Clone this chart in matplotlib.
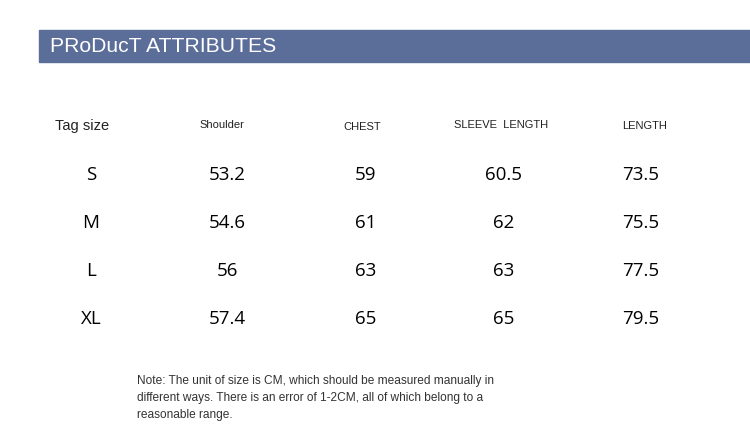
import matplotlib
matplotlib.use("Agg")
import matplotlib.pyplot as plt
from matplotlib.patches import Rectangle

# data
sizes = ["S", "M", "L", "XL"]
shoulder = ["53.2", "54.6", "56", "57.4"]
chest = ["59", "61", "63", "65"]
sleeve = ["60.5", "62", "63", "65"]
length = ["73.5", "75.5", "77.5", "79.5"]
headers = ["Tag size", "Shoulder", "CHEST", "SLEEVE  LENGTH", "LENGTH"]
title = "PRoDucT ATTRIBUTES"
note = ("Note: The unit of size is CM, which should be measured manually in\n"
        "different ways. There is an error of 1-2CM, all of which belong to a\n"
        "reasonable range.")

W, H = 750, 439
fig = plt.figure(figsize=(W / 100, H / 100), dpi=100)
ax = fig.add_axes([0, 0, 1, 1])
ax.set_xlim(0, W)
ax.set_ylim(H, 0)
ax.axis("off")

# header bar
ax.add_patch(Rectangle((39, 31), W - 39, 32, color="#5b6d99", zorder=1))
ax.text(50, 47, title, color="white", fontsize=15.2, family="Liberation Sans",
        va="center", ha="left", zorder=2)

# column headers
ax.text(55, 126, headers[0], fontsize=10.5, family="Liberation Sans",
        color="#222222", ha="left", va="center")
head_x = [222, 362, 501, 645]
head_y = [125, 127, 125, 126]
for hx, hy, h in zip(head_x, head_y, headers[1:]):
    ax.text(hx, hy, h, fontsize=8, family="Liberation Sans", color="#222222",
            ha="center", va="center")

# body
col_x = [91, 227, 366, 504, 641]
row_y = [175.5, 223.5, 271.5, 319.5]
columns = [sizes, shoulder, chest, sleeve, length]
for cx, col in zip(col_x, columns):
    for ry, val in zip(row_y, col):
        ax.text(cx, ry, val, fontsize=13.5, family="Open Sans", fontweight="medium",
                color="#000000", ha="center", va="center")

ax.text(137, 375.5, note, fontsize=8.6, family="Liberation Sans", color="#333333",
        ha="left", va="top", linespacing=1.55)

fig.savefig("out.png", dpi=100)
